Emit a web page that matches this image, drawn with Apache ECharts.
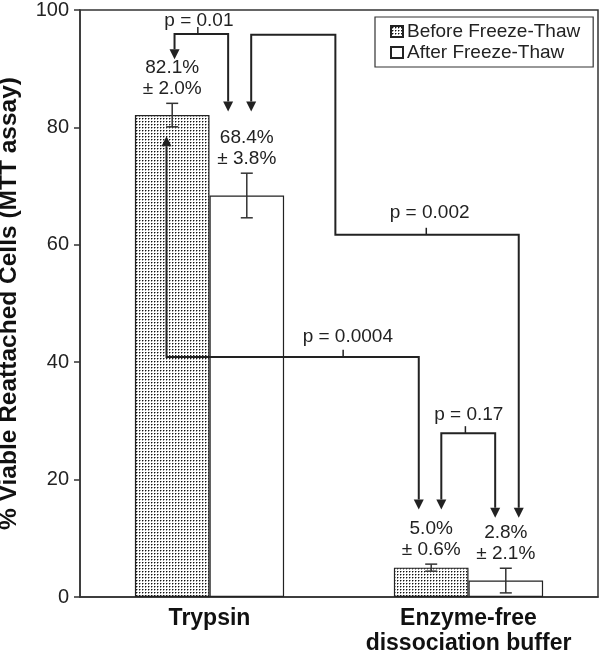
<!DOCTYPE html>
<html>
<head>
<meta charset="utf-8">
<script src="https://cdn.jsdelivr.net/npm/echarts@6/dist/echarts.min.js"></script>
<style>
html, body { margin: 0; padding: 0; background: #fff; }
#chart { width: 600px; height: 654px; }
</style>
</head>
<body>
<div id="chart"></div>
<script>
// data -----------------------------
var categories = ['Trypsin', 'Enzyme-free\ndissociation buffer'];
var seriesNames = ['Before Freeze-Thaw', 'After Freeze-Thaw'];
var beforeMean = [82.1, 5.0];
var beforeErr = [2.0, 0.6];
var afterMean = [68.4, 2.8];
var afterErr = [3.8, 2.1];

// p-value brackets, x in "slot" units (category i centre = i + 0.5), y in %
var pLabels = ['p = 0.01', 'p = 0.002', 'p = 0.0004', 'p = 0.17'];
var pBrackets = [
	[[0.365, 91.6], [0.365, 95.9], [0.572, 95.9], [0.572, 82.7]],
	[[0.661, 82.7], [0.661, 95.8], [0.986, 95.8], [0.986, 61.7], [1.694, 61.7], [1.694, 13.5]],
	[[0.334, 78.5], [0.334, 40.9], [1.308, 40.9], [1.308, 14.9]],
	[[1.395, 14.9], [1.395, 27.9], [1.603, 27.9], [1.603, 13.5]]
];
var pTicks = [[0.455, 95.9], [1.337, 61.7], [1.016, 40.9], [1.488, 27.9]];
var pTextPos = [[0.459, 98.1], [1.350, 65.4], [1.034, 44.3], [1.501, 31.0]];

var BAR_FRAC = 0.288;
var FONT = '"Liberation Sans", Arial, Helvetica, sans-serif';
var INK = '#222';

// dotted fill for "before" bars
var dots = document.createElement('canvas');
dots.width = 3;
dots.height = 3;
var ctx = dots.getContext('2d');
ctx.fillStyle = '#fff';
ctx.fillRect(0, 0, 3, 3);
ctx.fillStyle = '#999';
ctx.fillRect(2, 1, 1, 1);
ctx.fillRect(1, 2, 1, 1);
ctx.fillStyle = '#111';
ctx.fillRect(1, 1, 1, 1);

// error bar data: [slot, mean, err]
var errData = [];
for (var i = 0; i < categories.length; i++) {
	errData.push([i + 0.5 - BAR_FRAC / 2, beforeMean[i], beforeErr[i]]);
	errData.push([i + 0.5 + BAR_FRAC / 2, afterMean[i], afterErr[i]]);
}

function renderErr(params, api) {
	var x = api.value(0), m = api.value(1), e = api.value(2);
	var top = api.coord([x, m + e]);
	var bot = api.coord([x, m - e]);
	var cap = 6;
	var st = { stroke: '#333', lineWidth: 1.5 };
	return {
		type: 'group',
		children: [
			{ type: 'line', shape: { x1: top[0], y1: top[1], x2: bot[0], y2: bot[1] }, style: st },
			{ type: 'line', shape: { x1: top[0] - cap, y1: top[1], x2: top[0] + cap, y2: top[1] }, style: st },
			{ type: 'line', shape: { x1: bot[0] - cap, y1: bot[1], x2: bot[0] + cap, y2: bot[1] }, style: st },
			{
				type: 'text', x: top[0], y: top[1] - 4.5,
				style: {
					text: m.toFixed(1) + '%\n\u00b1 ' + e.toFixed(1) + '%',
					align: 'center', verticalAlign: 'bottom',
					fontSize: 19, lineHeight: 20.5, fontFamily: FONT, fill: INK
				}
			}
		]
	};
}

function arrowHead(tip, from) {
	var dx = tip[0] - from[0], dy = tip[1] - from[1];
	var len = Math.sqrt(dx * dx + dy * dy) || 1;
	var ux = dx / len, uy = dy / len;
	var L = 10, W = 5;
	var bx = tip[0] - ux * L, by = tip[1] - uy * L;
	return {
		base: [bx, by],
		shape: {
			type: 'polygon',
			shape: { points: [tip, [bx - uy * W, by + ux * W], [bx + uy * W, by - ux * W]] },
			style: { fill: INK }
		}
	};
}

function renderBracket(params, api) {
	var pts = pBrackets[params.dataIndex].map(function (p) { return api.coord(p); });
	var n = pts.length;
	var a0 = arrowHead(pts[0], pts[1]);
	var a1 = arrowHead(pts[n - 1], pts[n - 2]);
	var line = pts.slice();
	line[0] = a0.base;
	line[n - 1] = a1.base;
	var t = pTicks[params.dataIndex];
	var t0 = api.coord(t), t1 = api.coord([t[0], t[1] + 1.2]);
	return {
		type: 'group',
		children: [
			{ type: 'polyline', shape: { points: line }, style: { stroke: INK, lineWidth: 2, fill: null } },
			a0.shape,
			a1.shape,
			{ type: 'line', shape: { x1: t0[0], y1: t0[1], x2: t1[0], y2: t1[1] }, style: { stroke: INK, lineWidth: 1.5 } }
		]
	};
}

function renderPText(params, api) {
	var p = api.coord([api.value(0), api.value(1)]);
	return {
		type: 'text', x: p[0], y: p[1],
		style: {
			text: pLabels[params.dataIndex], align: 'center', verticalAlign: 'middle',
			fontSize: 19, fontFamily: FONT, fill: INK
		}
	};
}

var chart = echarts.init(document.getElementById('chart'));
chart.setOption({
	animation: false,
	textStyle: { fontFamily: FONT },
	grid: {
		left: 80, right: 2, top: 10, bottom: 57,
		outerBoundsMode: 'none', containLabel: false,
		show: true, borderColor: '#333', borderWidth: 1.5
	},
	legend: {
		data: seriesNames,
		orient: 'vertical',
		left: 375,
		top: 17,
		padding: [5, 13, 5, 15],
		itemGap: 2,
		itemWidth: 12,
		itemHeight: 11,
		borderColor: '#333',
		borderWidth: 1.2,
		icon: 'rect',
		textStyle: { fontSize: 19, color: INK, padding: [0, 0, 0, -1] }
	},
	xAxis: [{
		type: 'category',
		data: categories,
		axisLine: { lineStyle: { color: '#333', width: 1.5 } },
		axisTick: { show: false },
		axisLabel: { interval: 0, fontSize: 23, fontWeight: 'bold', lineHeight: 25, color: '#111', margin: 9 }
	}, {
		type: 'value', min: 0, max: 2, show: false
	}],
	yAxis: {
		type: 'value',
		min: 0,
		max: 100,
		interval: 20,
		name: '% Viable Reattached Cells (MTT assay)',
		nameLocation: 'middle',
		nameGap: 58,
		nameTextStyle: { fontSize: 24.5, fontWeight: 'bold', color: '#111' },
		axisLine: { show: true, lineStyle: { color: '#333', width: 1.5 } },
		axisTick: { show: true, length: 6, lineStyle: { color: '#333', width: 1.5 } },
		splitLine: { show: false },
		axisLabel: { fontSize: 20, color: INK, margin: 11 }
	},
	series: [{
		name: seriesNames[0],
		type: 'bar',
		data: beforeMean,
		barWidth: (BAR_FRAC * 100) + '%',
		barGap: '0%',
		itemStyle: { color: { image: dots, repeat: 'repeat' }, borderColor: INK, borderWidth: 1.2 }
	}, {
		name: seriesNames[1],
		type: 'bar',
		data: afterMean,
		barWidth: (BAR_FRAC * 100) + '%',
		barGap: '0%',
		itemStyle: { color: '#fff', borderColor: INK, borderWidth: 1.2 }
	}, {
		type: 'custom',
		xAxisIndex: 1,
		renderItem: renderErr,
		data: errData,
		silent: true,
		z: 4
	}, {
		type: 'custom',
		xAxisIndex: 1,
		renderItem: renderBracket,
		data: pBrackets.map(function (c) { return c[0]; }),
		silent: true,
		z: 5
	}, {
		type: 'custom',
		xAxisIndex: 1,
		renderItem: renderPText,
		data: pTextPos,
		silent: true,
		z: 5
	}]
});
</script>
</body>
</html>
